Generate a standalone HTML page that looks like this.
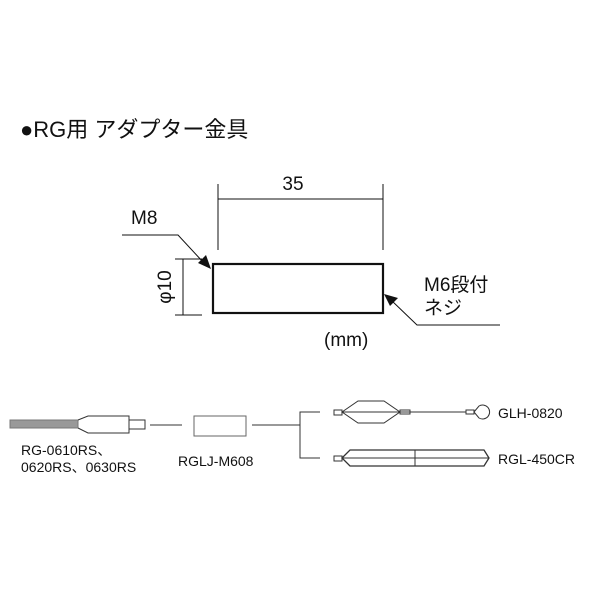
<html><body style="margin:0;background:#fff">
<svg width="600" height="600" xmlns="http://www.w3.org/2000/svg" style="font-family:'Liberation Sans','Noto Sans CJK JP',sans-serif">
<text x="20" y="137" font-size="22" fill="#111">●RG用 アダプター金具</text>
<g stroke="#111" fill="none">
<rect x="213" y="264" width="170" height="49" stroke-width="2.2"/>
<line x1="218" y1="184" x2="218" y2="250"/><line x1="383" y1="184" x2="383" y2="250"/>
<line x1="218" y1="199" x2="383" y2="199"/>
<line x1="183" y1="259" x2="183" y2="315"/><line x1="175" y1="259" x2="202" y2="259"/><line x1="175" y1="315" x2="202" y2="315"/>
<polyline points="122,235 178,235 203,262"/>
<polyline points="391,300 417,325 500,325"/>
</g>
<polygon points="211,269 198,263 206,255" fill="#111"/>
<polygon points="384,294 398,298 390,306" fill="#111"/>
<g font-size="19" fill="#111">
<text x="293" y="190" text-anchor="middle">35</text>
<text x="131" y="224">M8</text>
<text x="424" y="291">M6段付</text>
<text x="424" y="314">ネジ</text>
<text x="324" y="346">(mm)</text>
<text transform="translate(171,287) rotate(-90)" text-anchor="middle">φ10</text>
</g>
<g stroke="#333" fill="none" stroke-width="1">
<rect x="10" y="420" width="68" height="8" fill="#999" stroke="#777"/>
<path d="M78,420 L88,416 L129,416 L129,433 L88,433 L78,428"/>
<rect x="129" y="420" width="16" height="9"/>
<line x1="150" y1="425" x2="182" y2="425"/>
<rect x="194" y="416" width="52" height="20" stroke="#666"/>
<line x1="252" y1="425" x2="300" y2="425"/>
<polyline points="320,412 300,412 300,458 320,458"/>
<rect x="334" y="410" width="8" height="5"/>
<path d="M342,412 L358,401 L384,401 L400,412 L384,423 L358,423 Z"/>
<line x1="342" y1="412" x2="410" y2="412"/>
<rect x="400" y="410" width="10" height="4"/>
<line x1="410" y1="412" x2="466" y2="412"/>
<rect x="466" y="410" width="8" height="4"/>
<path d="M474,412 L479,406 A7,7 0 1 1 479,418 Z"/>
<rect x="334" y="456" width="8" height="5"/>
<path d="M342,458 L350,450 L484,450 L489,458 L484,466 L350,466 Z" stroke-width="1.3"/>
<line x1="342" y1="458" x2="489" y2="458"/>
<line x1="415" y1="450" x2="415" y2="466"/>
</g>
<g font-size="14" fill="#111">
<text x="21" y="455">RG-0610RS、</text>
<text x="21" y="472">0620RS、0630RS</text>
<text x="178" y="466">RGLJ-M608</text>
<text x="498" y="418">GLH-0820</text>
<text x="498" y="464">RGL-450CR</text>
</g>
</svg>
</body></html>
